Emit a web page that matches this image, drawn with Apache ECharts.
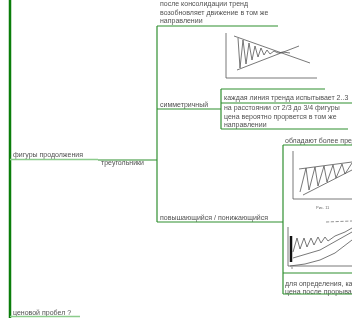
<!DOCTYPE html>
<html>
<head>
<meta charset="utf-8">
<script src="https://cdn.jsdelivr.net/npm/echarts@6/dist/echarts.min.js"></script>
<style>
  html, body { margin: 0; padding: 0; background: #fff; }
  #chart { width: 352px; height: 318px; }
</style>
</head>
<body>
<div id="chart"></div>
<script>
// mind map nodes: [x, y, text]
var nodeLabels = [
  [13, 155, 'фигуры продолжения'],
  [101, 163, 'треугольники'],
  [160, 13, 'после консолидации тренд\nвозобновляет движение в том же\nнаправлении'],
  [160, 105, 'симметричный'],
  [224, 98, 'каждая линия тренда испытывает 2..3'],
  [224, 117, 'на расстоянии от 2/3 до 3/4 фигуры\nцена вероятно прорвется в том же\nнаправлении'],
  [285, 141, 'обладают более предсказуемым'],
  [160, 218, 'повышающийся / понижающийся'],
  [285, 288, 'для определения, как далеко пойдет\nцена после прорыва'],
  [13, 313, 'ценовой пробел ?']
];
var figCaption = [[316, 208, 'Рис. 11'], [291, 268, 'x']];

// connectors of the map
var trunk = [[10, 0], [10, 318]];
var rootLinks = [
  [[10, 159.5], [98, 159.5]],
  [[10, 316.5], [80, 316.5]]
];
var branchLinks = [
  [[98, 160], [157, 160]],
  [[157, 26], [157, 222]],
  [[157, 26], [278, 26]],
  [[157, 109], [221, 109]],
  [[221, 89], [221, 129]],
  [[221, 89], [325, 89]],
  [[221, 103], [352, 103]],
  [[221, 129], [348, 129]],
  [[157, 222], [283, 222]],
  [[283, 145], [283, 294]],
  [[283, 145], [352, 145]],
  [[283, 273], [352, 273]],
  [[283, 294], [352, 294]]
];

// sketch 1: symmetric triangle
var sk1Axes = [[226, 33], [226, 78], [317, 78]];
var sk1Upper = [[234, 36], [310, 63]];
var sk1Lower = [[237, 70], [299, 46]];
var sk1Wave = [[238, 38], [240, 68], [243, 40], [246, 64], [249, 43], [252, 60], [255, 46], [258, 57],
  [261, 48], [264, 55], [267, 50], [270, 54], [274, 51], [278, 53], [283, 52], [290, 53]];

// sketch 2: ascending triangle
var sk2Frame = [[293, 151], [293, 199], [352, 199]];
var sk2Upper = [[299, 169], [352, 162]];
var sk2Lower = [[303, 195], [352, 170]];
var sk2Wave = [[300, 192], [306, 168], [309, 190], [315, 167], [318, 186], [324, 166], [327, 182],
  [333, 165], [336, 178], [342, 164], [345, 174], [352, 163]];

// sketch 3: measuring the move
var sk3Axes = [[288, 227], [288, 266], [352, 266]];
var sk3Bar = [[291, 236], [291, 262]];
var sk3Wave = [[293, 252], [297, 238], [300, 249], [304, 238], [307, 247], [311, 238], [314, 245],
  [318, 237], [321, 243], [325, 237], [328, 241], [335, 236], [345, 232], [352, 228]];
var sk3Lower = [[293, 258], [320, 250], [352, 232]];
var sk3Curve = [[290, 266], [305, 264], [320, 260], [335, 253], [352, 240]];
var sk3Dash = [[326, 222], [352, 221]];

var chart = echarts.init(document.getElementById('chart'));

function seg(data, color, width, type) {
  return {
    type: 'line', data: data, symbol: 'none', silent: true, animation: false,
    lineStyle: { color: color, width: width, type: type || 'solid' }
  };
}

var series = [];
series.push(seg(trunk, '#0a7d0a', 2.5));
rootLinks.forEach(function (d) { series.push(seg(d, '#8ccc8c', 1.5)); });
branchLinks.forEach(function (d) { series.push(seg(d, '#2f8f2f', 1.2)); });
[sk1Axes, sk1Upper, sk1Lower, sk1Wave, sk2Frame, sk2Upper, sk2Lower, sk2Wave,
  sk3Axes, sk3Wave, sk3Lower, sk3Curve].forEach(function (d) {
  series.push(seg(d, '#555', 0.8));
});
series.push(seg(sk3Bar, '#111', 2.5));
series.push(seg(sk3Dash, '#777', 0.8, 'dashed'));

series.push({
  type: 'scatter', data: nodeLabels, symbolSize: 0, silent: true, animation: false,
  label: {
    show: true, position: 'right', distance: 0,
    formatter: function (p) { return p.data[2]; },
    fontFamily: 'Liberation Sans, Arial', fontSize: 7, lineHeight: 8.5, color: '#222'
  }
});
series.push({
  type: 'scatter', data: figCaption, symbolSize: 0, silent: true, animation: false,
  label: {
    show: true, position: 'right', distance: 0,
    formatter: function (p) { return p.data[2]; },
    fontFamily: 'Liberation Sans, Arial', fontSize: 4, color: '#444'
  }
});

chart.setOption({
  animation: false,
  grid: { left: 0, right: 0, top: 0, bottom: 0 },
  xAxis: { type: 'value', min: 0, max: 352, show: false },
  yAxis: { type: 'value', min: 0, max: 318, inverse: true, show: false },
  series: series
});
</script>
</body>
</html>
